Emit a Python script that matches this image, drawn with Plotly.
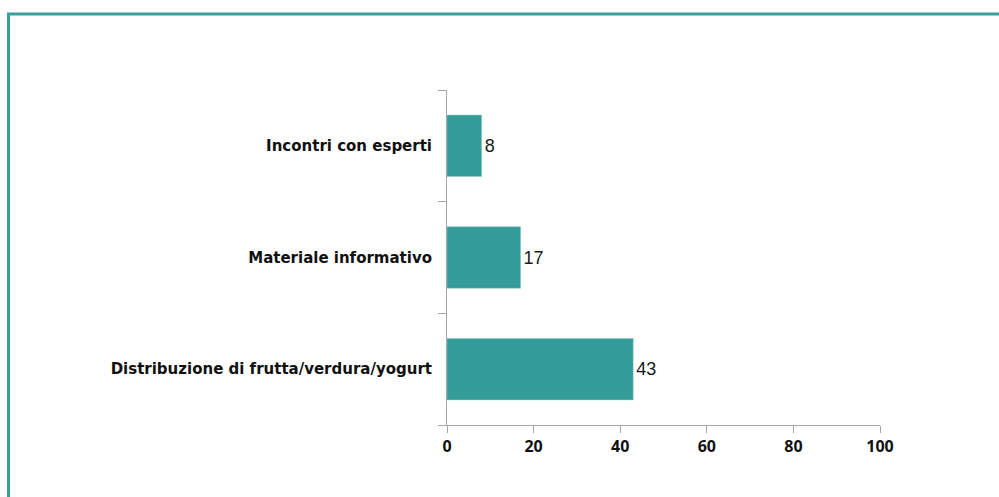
import plotly.graph_objects as go

categories = ["Distribuzione di frutta/verdura/yogurt", "Materiale informativo", "Incontri con esperti"]
values = [43, 17, 8]
x_ticks = [0, 20, 40, 60, 80, 100]

teal = "#339b98"
axis_grey = "#a6a6a6"

fig = go.Figure(
    go.Bar(
        y=categories,
        x=values,
        orientation="h",
        marker=dict(color=teal, line=dict(color="#8fcac7", width=0.5)),
        width=0.55,
        text=[str(v) for v in values],
        textposition="outside",
        textfont=dict(family="Liberation Sans, Arial, sans-serif", size=18, color="#1a1a1a"),
        cliponaxis=False,
    )
)

fig.update_layout(
    width=999,
    height=497,
    margin=dict(l=447, r=119, t=90, b=72),
    plot_bgcolor="white",
    paper_bgcolor="white",
    showlegend=False,
    shapes=[
        dict(
            type="path",
            xref="paper",
            yref="paper",
            path="M -1.0127,-0.5 L -1.0127,1.2269 L 1.5,1.2269",
            line=dict(color="#3a9e9a", width=3),
        )
    ],
)

fig.update_xaxes(
    range=[0, 100],
    tickvals=x_ticks,
    ticks="outside",
    ticklen=7,
    tickcolor=axis_grey,
    showline=True,
    linecolor=axis_grey,
    linewidth=1,
    showgrid=False,
    zeroline=False,
    tickfont=dict(family="Open Sans, sans-serif", size=16, color="#111111", weight="bold"),
)

fig.update_yaxes(
    ticks="outside",
    tickson="boundaries",
    ticklen=8,
    tickcolor=axis_grey,
    showline=True,
    linecolor=axis_grey,
    linewidth=1,
    showgrid=False,
    ticklabelstandoff=11,
    tickfont=dict(family="DejaVu Sans, sans-serif", size=15, color="#111111", weight="bold"),
)

fig.write_html("out.html")
